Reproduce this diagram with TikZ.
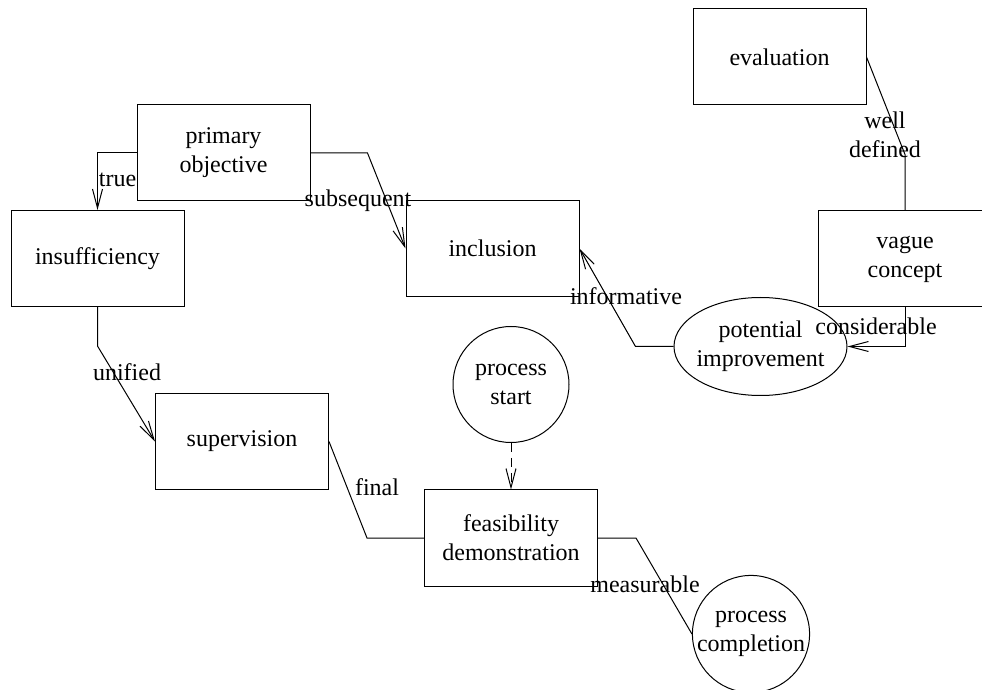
\documentclass[tikz,border=0pt]{standalone}
\usepackage{fontspec}
\setmainfont{Liberation Serif}
\usetikzlibrary{arrows.meta,shapes.geometric}
\tikzset{
  box/.style={rectangle,draw=black,line width=0.5pt,minimum width=86.5pt,
              minimum height=48pt,inner sep=0pt,align=center},
  roundnode/.style={circle,draw=black,line width=0.5pt,minimum size=58pt,
                    inner sep=0pt,align=center},
  oval/.style={ellipse,draw=black,line width=0.5pt,minimum width=86.5pt,
               minimum height=49pt,inner xsep=-1.5pt,inner ysep=0pt,align=center},
  lbl/.style={inner sep=0pt,align=center},
  link/.style={line width=0.5pt},
  arr/.style={link,-{Straight Barb[length=9.5pt,width=5pt]}},
  dasharr/.style={arr,dash pattern=on 4.5pt off 3pt},
}

\begin{document}
\begin{tikzpicture}[x=0.5pt,y=-0.5pt,font=\fontsize{12}{14.5}\selectfont]
  \useasboundingbox (0,0) rectangle (982,690);
  % nodes
  \node[box] (evaluation) at (779.5,57) {evaluation};
  \node[box] (primobj) at (223.5,153) {primary\\objective};
  \node[box] (insuff) at (97.5,258.5) {insufficiency};
  \node[box] (inclusion) at (492.5,248.5) {inclusion};
  \node[box] (vague) at (905,259) {vague\\concept};
  \node[oval] (potimp) at (760.5,346.5) {potential\\improvement};
  \node[roundnode] (pstart) at (511,384.5) {process\\start};
  \node[box] (superv) at (242,441.5) {supervision};
  \node[box] (feasib) at (511,538) {feasibility\\demonstration};
  \node[roundnode] (pcomp) at (751,634) {process\\completion};
  % connectors
  \draw[arr] (primobj.west) -| (insuff.north);
  \draw[arr] (primobj.east) -- ++(57,0) -- (inclusion.west);
  \draw[arr] (insuff.south) -- ++(0,39) -- (superv.west);
  \draw[link] (feasib.west) -- ++(-57,0) -- (superv.east);
  \draw[dasharr] (pstart.south) -- (feasib.north);
  \draw[link] (feasib.east) -- ++(38,0) -- (pcomp.west);
  \draw[arr] (potimp.west) -- ++(-38,0) -- (inclusion.east);
  \draw[arr] (vague.south) |- (potimp.east);
  \draw[link] (vague.north) -- ++(0,-56) -- (evaluation.east);
  % labels
  \node[lbl] (ltrue) at (117.5,180) {true};
  \node[lbl] (lsubseq) at (358,201) {subsequent};
  \node[lbl] (lunified) at (127,372) {unified};
  \node[lbl] (lfinal) at (377,487) {final};
  \node[lbl] (lmeas) at (645,584) {measurable};
  \node[lbl] (linform) at (626,296) {informative};
  \node[lbl] (lconsid) at (876,326) {considerable};
  \node[lbl] (lwell) at (885,135) {well\\defined};
\end{tikzpicture}
\end{document}
